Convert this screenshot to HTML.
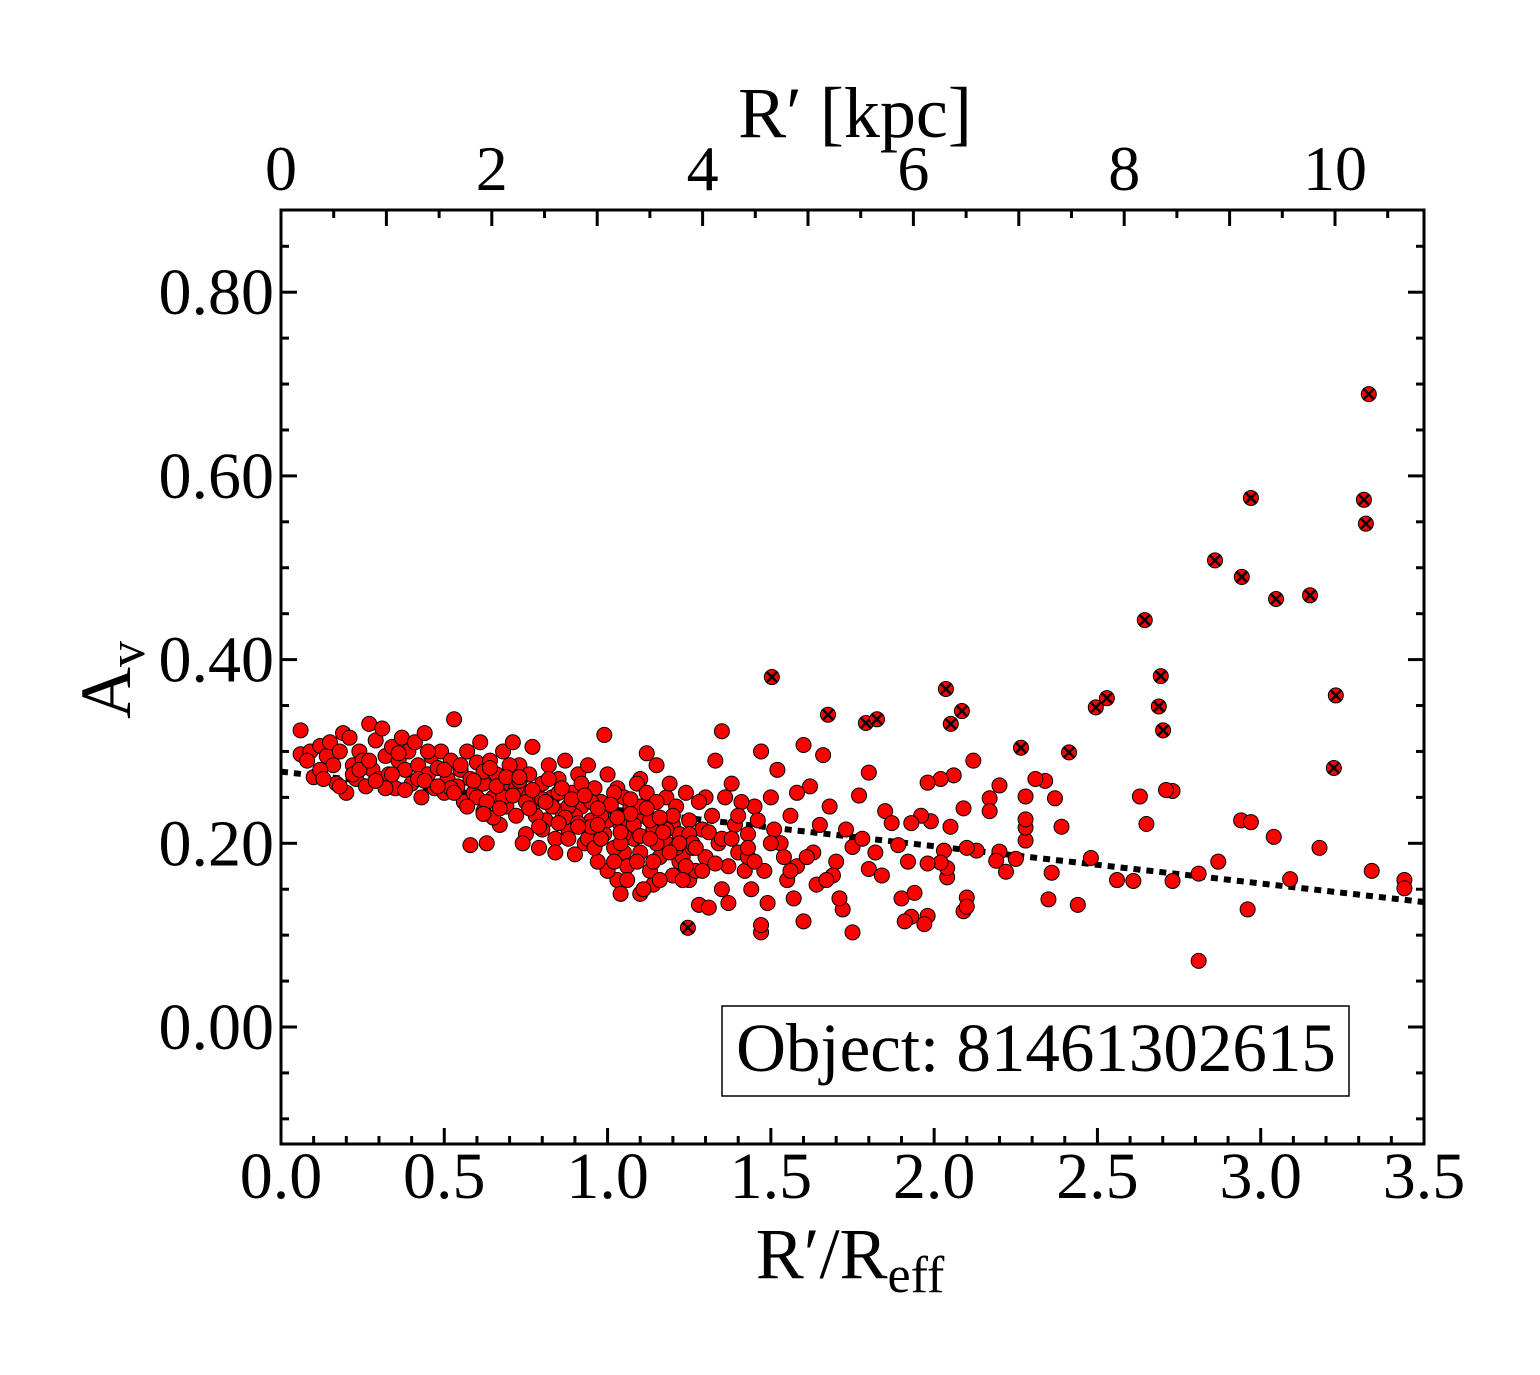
<!DOCTYPE html>
<html><head><meta charset="utf-8">
<style>
html,body{margin:0;padding:0;background:#fff;}
svg{display:block;font-family:"Liberation Serif",serif;}
</style></head>
<body>
<svg id="chart" width="1540" height="1375" viewBox="0 0 1540 1375" xmlns="http://www.w3.org/2000/svg">
<rect width="1540" height="1375" fill="#fff"/>
</svg>
<script>
const xVals=[2.81,2.96,2.87,2.94,2.97,3.04,3.09,3.18,3.34,3.44,3.44,2.81,2.73,2.71,2.73,2.63,2.65,2.61,2.56,2.44,2.48,2.39,2.37,2.34,2.31,2.36,2.35,2.28,2.28,2.28,2.28,2.25,2.22,2.20,2.19,2.20,2.17,2.17,2.13,2.12,2.10,2.10,2.09,2.10,2.09,2.06,2.05,2.04,2.04,2.03,2.02,2.02,1.99,1.98,1.98,1.96,1.93,1.92,1.90,1.93,1.94,1.98,1.97,1.91,
1.47,1.47,1.60,1.75,1.72,1.71,1.80,1.84,1.62,1.60,1.66,1.80,1.85,1.77,1.75,1.68,1.65,1.63,1.58,1.55,1.53,1.56,1.58,1.52,1.50,1.70,1.73,1.78,1.82,1.87,1.89,1.64,1.69,1.57,1.49,1.44,1.42,1.40,1.43,1.45,1.47,1.38,1.35,1.33,1.30,1.28,1.31,1.37,1.25,1.22,1.20,1.18,1.15,1.12,1.10,1.08,1.05,1.03,1.00,1.04,1.10,1.14,0.99,
0.06,0.06,0.09,0.10,0.12,0.14,0.15,0.16,0.17,0.18,0.19,0.20,0.21,0.22,0.23,0.24,0.25,0.26,0.27,0.28,0.29,0.30,0.31,0.32,0.33,0.34,0.35,0.36,0.37,0.38,0.39,0.40,0.41,0.42,0.43,0.44,0.45,0.46,0.47,0.48,0.49,0.50,0.51,0.52,0.53,0.54,0.55,0.56,0.57,0.58,0.58,0.59,0.60,0.61,0.62,0.62,0.63,0.64,0.65,0.66,0.67,0.68,0.69,0.70,0.71,0.72,0.73,0.74,0.75,0.76,0.77,0.78,0.79,0.80,0.81,0.82,0.83,0.84,0.85,0.86,0.87,0.88,0.89,0.90,0.91,0.92,0.93,0.94,0.95,0.96,0.97,0.98,0.99,1.00,1.01,1.02,1.03,1.04,1.05,1.06,1.07,1.08,1.09,1.10,1.11,1.12,1.13,1.14,1.15,1.16,1.17,1.18,1.19,1.20,1.21,1.22,1.23,1.24,1.25,1.26,1.27,1.28,1.29,1.30,1.32,1.34,1.36,1.37,1.39,1.41,1.43,1.46,1.48,1.51,1.54,
0.60,0.65,0.70,0.75,0.80,0.85,0.90,0.95,1.00,1.05,1.10,1.15,1.20,1.25,1.02,0.92,0.82,0.72,0.62,0.52,0.42,0.32,0.22,0.12,0.88,0.98,1.08,1.18,0.78,0.68,0.74,0.84,0.94,1.04,1.14,1.24,0.96,1.06,1.16,1.11,
0.08,0.13,0.18,0.24,0.29,0.34,0.38,0.44,0.48,0.53,0.57,0.63,0.66,0.71,0.76,0.80,0.83,0.87,0.91,0.95,0.98,1.01,1.04,1.07,1.10,1.13,1.17,1.21,1.26,1.31,1.35,1.40,0.55,0.59,0.64,0.69,0.73,0.77,0.81,0.86,0.89,0.93,0.97,1.03,1.07,1.12,1.16,1.22,1.27,1.33,1.38,1.45,1.50,1.56,1.61,1.67,0.45,0.50,0.36,0.27,0.67,0.79,0.91,1.09,1.19,1.29,0.85,0.97,1.13,1.02,0.73,0.62,0.88,1.23,1.35,1.43];
const yVals=[0.072,0.128,0.180,0.225,0.223,0.207,0.161,0.195,0.170,0.160,0.151,0.167,0.257,0.258,0.159,0.251,0.221,0.159,0.160,0.133,0.184,0.218,0.249,0.268,0.270,0.168,0.139,0.203,0.217,0.226,0.251,0.183,0.169,0.191,0.181,0.263,0.249,0.235,0.192,0.290,0.195,0.141,0.126,0.131,0.238,0.274,0.218,0.163,0.173,0.192,0.179,0.270,0.224,0.178,0.266,0.230,0.222,0.180,0.140,0.120,0.146,0.121,0.112,0.115,
0.103,0.111,0.115,0.103,0.128,0.140,0.172,0.165,0.262,0.307,0.296,0.277,0.235,0.252,0.196,0.240,0.220,0.190,0.175,0.160,0.200,0.230,0.255,0.280,0.250,0.180,0.215,0.205,0.190,0.222,0.198,0.155,0.165,0.140,0.135,0.150,0.170,0.190,0.210,0.240,0.300,0.265,0.322,0.290,0.250,0.133,0.130,0.135,0.160,0.180,0.220,0.250,0.285,0.298,0.270,0.230,0.190,0.160,0.170,0.145,0.145,0.155,0.318,
0.297,0.323,0.300,0.272,0.306,0.295,0.310,0.285,0.265,0.300,0.320,0.255,0.315,0.285,0.270,0.300,0.290,0.262,0.330,0.280,0.312,0.270,0.325,0.295,0.275,0.305,0.260,0.290,0.315,0.280,0.300,0.265,0.310,0.285,0.250,0.320,0.275,0.295,0.260,0.282,0.300,0.255,0.270,0.290,0.335,0.262,0.280,0.245,0.300,0.270,0.198,0.255,0.288,0.310,0.235,0.265,0.200,0.290,0.250,0.275,0.220,0.300,0.240,0.265,0.310,0.230,0.285,0.255,0.210,0.275,0.305,0.245,0.195,0.265,0.225,0.285,0.250,0.205,0.270,0.235,0.290,0.215,0.255,0.188,0.275,0.240,0.200,0.285,0.225,0.260,0.180,0.245,0.210,0.275,0.235,0.195,0.260,0.220,0.250,0.175,0.240,0.205,0.265,0.190,0.230,0.255,0.170,0.215,0.245,0.185,0.225,0.200,0.265,0.165,0.240,0.210,0.185,0.255,0.225,0.195,0.170,0.245,0.215,0.185,0.230,0.200,0.250,0.175,0.220,0.245,0.185,0.225,0.170,0.215,0.185,
0.250,0.228,0.285,0.245,0.215,0.255,0.230,0.245,0.225,0.210,0.240,0.200,0.230,0.210,0.255,0.265,0.270,0.260,0.278,0.260,0.270,0.260,0.275,0.280,0.240,0.230,0.220,0.215,0.230,0.250,0.200,0.190,0.205,0.200,0.180,0.175,0.195,0.160,0.160,0.150,
0.290,0.270,0.262,0.280,0.268,0.275,0.258,0.268,0.262,0.255,0.240,0.245,0.262,0.252,0.238,0.248,0.240,0.228,0.222,0.218,0.205,0.242,0.212,0.232,0.208,0.225,0.212,0.195,0.200,0.212,0.205,0.230,0.285,0.268,0.282,0.272,0.268,0.258,0.245,0.260,0.248,0.252,0.238,0.228,0.248,0.238,0.228,0.200,0.195,0.178,0.205,0.180,0.200,0.170,0.185,0.160,0.300,0.280,0.298,0.290,0.238,0.218,0.218,0.180,0.190,0.170,0.222,0.220,0.205,0.180,0.272,0.232,0.205,0.160,0.150,0.195];
const flagX=[1.246,1.503,1.675,1.791,1.825,2.036,2.051,2.085,2.266,2.413,2.495,2.529,2.645,2.688,2.694,2.701,2.860,2.942,2.970,3.047,3.151,3.224,3.230,3.316,3.322,3.331];
const flagY=[0.108,0.381,0.340,0.331,0.335,0.368,0.330,0.344,0.304,0.299,0.348,0.358,0.443,0.349,0.382,0.323,0.508,0.490,0.576,0.466,0.470,0.282,0.361,0.574,0.548,0.689];
const fitX=[0,3.5];
const fitY=[0.278,0.136];
const xTicks=["0.0","0.5","1.0","1.5","2.0","2.5","3.0","3.5"];
const yTicks=["0.00","0.20","0.40","0.60","0.80"];
const topTicks=["0","2","4","6","8","10"];

const L=281,R=1424,T=210,B=1144;
const sx=v=>L+v*(R-L)/3.5;
const sy=v=>1027-v*918.5;
const sk=v=>L+v*105.4;
const NS="http://www.w3.org/2000/svg";
const svg=document.getElementById('chart');
function mk(tag,attrs,parent){const e=document.createElementNS(NS,tag);for(const k in attrs)e.setAttribute(k,attrs[k]);(parent||svg).appendChild(e);return e;}

const fit=mk('line',{x1:sx(fitX[0]),y1:sy(fitY[0]),x2:sx(fitX[1]),y2:sy(fitY[1]),stroke:'#000','stroke-width':6,'stroke-dasharray':'7,6'});



const pg=mk('g',{});


for(let i=0;i<xVals.length;i++){
  const c=mk('circle',{cx:sx(xVals[i]),cy:sy(yVals[i]),r:7.5,fill:'#f00',stroke:'#000','stroke-width':1},pg);
  
  
}
const fg=mk('g',{});


for(let i=0;i<flagX.length;i++){
  const x=sx(flagX[i]),y=sy(flagY[i]);
  const g=mk('g',{},fg);
  
  
  mk('circle',{cx:x,cy:y,r:7.5,fill:'#f00',stroke:'#000','stroke-width':1},g);
  mk('path',{d:`M${x-5},${y-5}L${x+5},${y+5}M${x-5},${y+5}L${x+5},${y-5}`,stroke:'#000','stroke-width':2.5},g);
}

const fr=mk('rect',{x:L,y:T,width:R-L,height:B-T,fill:'none',stroke:'#000','stroke-width':3});



const tg=mk('g',{stroke:'#000','stroke-width':3});


for(let k=0;k<=35;k++){const v=k/10,x=sx(v),len=(k%5===0)?16:8;
  mk('line',{x1:x,y1:B,x2:x,y2:B-len},tg);}
for(let k=0;k<=21;k++){const x=sk(k/2);if(x>R)break;const len=(k%2===0)?16:8;
  mk('line',{x1:x,y1:T,x2:x,y2:T+len},tg);}
for(let k=-2;k<=17;k++){const y=sy(k*0.05);if(y<T||y>B)continue;const len=(k%4===0)?16:8;
  mk('line',{x1:L,y1:y,x2:L+len,y2:y},tg);mk('line',{x1:R,y1:y,x2:R-len,y2:y},tg);}

xTicks.forEach((t,i)=>{const e=mk('text',{x:sx(i*0.5),y:1198,'font-size':66,'text-anchor':'middle'});e.textContent=t;
  });
topTicks.forEach((t,i)=>{const e=mk('text',{x:sk(i*2),y:190,'font-size':64,'text-anchor':'middle'});e.textContent=t;
  });
yTicks.forEach((t,i)=>{const e=mk('text',{x:274,y:sy(i*0.2)+22,'font-size':66,'text-anchor':'end'});e.textContent=t;
  });
</script>
<svg style="position:absolute;left:0;top:0" width="1540" height="1375">
<text x="855" y="137" font-size="72" text-anchor="middle" font-family="Liberation Serif, serif">R′ [kpc]</text>
<text x="850" y="1278" font-size="72" text-anchor="middle" font-family="Liberation Serif, serif">R′/R<tspan font-size="52" dy="14">eff</tspan></text>
<text transform="translate(130,680) rotate(-90)" font-size="72" text-anchor="middle" font-family="Liberation Serif, serif">A<tspan font-size="52" dy="14">v</tspan></text>
<rect x="722" y="1006" width="627" height="90" fill="#fff" stroke="#000" stroke-width="1.5"/>
<text x="1036" y="1071" font-size="69" text-anchor="middle" font-family="Liberation Serif, serif">Object: 81461302615</text>
</svg>
</body></html>
